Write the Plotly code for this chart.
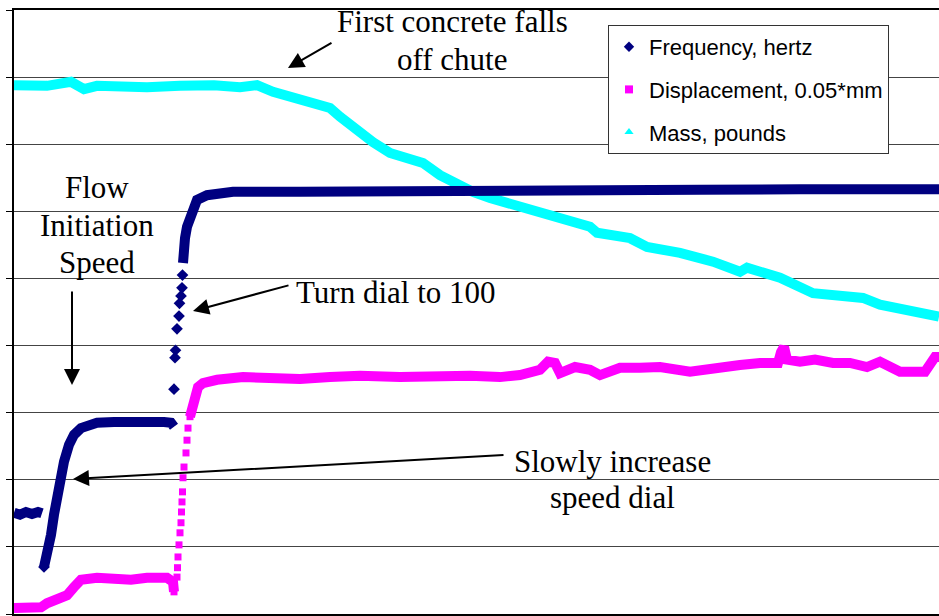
import plotly.graph_objects as go

# Time axis in seconds; None marks breaks between continuous stretches of readings.
freq_t = [0, 6, 12, 18, 24, 28, None,
          30, 33, 37, 40, 43, 47, 50, 55, 60, 67, 83, 100, 133, 150, 157, 160, None,
          169, 169.5, 171, 173, 176, 179, 183, 193, 219, 286, 386, 486, 586, 686, 786, 925]
freq_hz = [15.1, 14.8, 15.2, 14.9, 15.2, 15.0, None,
           7.0, 8.8, 11.8, 14.8, 17.7, 20.7, 22.7, 25.2, 26.7, 27.7, 28.5, 28.6, 28.8, 28.6, 28.5, 27.9, None,
           52.3, 54.2, 56.0, 57.7, 59.3, 60.7, 61.7, 62.4, 62.9, 62.9, 62.9, 63.0, 63.2, 63.2, 63.3, 63.3]
# Isolated frequency readings while the dial was turned to 100
freq_jump_t = [30, 160, 161, 161.5, 163, 165, 165.5, 167, 168, 168.5]
freq_jump_hz = [7.0, 33.5, 38.2, 39.3, 42.5, 44.4, 46.3, 47.4, 48.6, 50.5]

disp_t = [0, 27, 33, 43, 53, 60, 67, 83, 100, 117, 133, 153, 159, 160, None,
          176, 179, 181, 184, 189, 203, 229, 256, 286, 316, 346, 386, 426, 456, 486, 506, 526, 534, 541,
          546, 561, 576, 586, 606, 626, 646, 676, 691, 706, 726, 746, 764, 767, 770, 773, 786, 801, 819,
          836, 853, 866, 886, 911, 917, 921, 925]
disp_val = [0.9, 1.0, 1.6, 2.4, 2.8, 4.0, 5.1, 5.4, 5.1, 5.1, 5.4, 5.4, 4.8, 3.3, None,
            29.4, 31.4, 32.9, 33.8, 34.4, 34.9, 35.3, 35.2, 35.0, 35.3, 35.5, 35.3, 35.6, 35.5, 35.3, 35.6, 36.4, 37.6, 37.4,
            35.9, 36.8, 36.4, 35.6, 36.7, 36.7, 36.8, 36.1, 36.4, 37.0, 37.1, 37.4, 37.4, 39.0, 39.8, 37.9, 37.6, 37.9, 37.4,
            37.4, 36.8, 37.6, 36.1, 36.1, 37.3, 38.3, 38.3]
# Isolated displacement readings during the fast rise
disp_jump_t = [160, 163, 163.5, 164, 165, 166, 167, 167.5, 168, 168.5, 169, 170, 172, 173, 174, 176]
disp_jump_val = [3.3, 5.5, 6.9, 8.5, 10.3, 12.1, 13.6, 15.2, 16.7, 18.2, 20.3, 21.9, 24.0, 25.9, 27.7, 29.4]

mass_t = [0, 33, 57, 70, 83, 106, 133, 166, 200, 226, 243, 259, 276, 293, 316, 326, 343, 359, 376, 393,
          409, 426, 443, 459, 476, 493, 509, 526, 543, 559, 576, 583, 601, 616, 633, 666, 699, 726, 733,
          766, 799, 833, 849, 866, 883, 899, 925]
mass_lb = [78.8, 78.7, 79.3, 78.2, 78.7, 78.5, 78.5, 78.7, 78.8, 78.5, 78.8, 77.8, 77.1, 76.2, 75.4, 74.1, 72.1, 70.3, 68.7, 68.0,
           67.2, 65.4, 63.9, 62.9, 62.0, 61.3, 60.5, 59.8, 59.2, 58.4, 57.7, 56.8, 56.3, 56.0, 54.7, 53.8, 52.5, 51.0, 51.6,
           50.1, 47.8, 47.2, 47.1, 46.1, 45.6, 45.0, 44.3]

NAVY = "#000080"
MAGENTA = "#FF00FF"
CYAN = "#00FFFF"

fig = go.Figure()

fig.add_trace(go.Scatter(x=mass_t, y=mass_lb, mode="lines", line=dict(color=CYAN, width=10),
                         showlegend=False, connectgaps=False))
fig.add_trace(go.Scatter(x=disp_t, y=disp_val, mode="lines", line=dict(color=MAGENTA, width=10),
                         showlegend=False, connectgaps=False))
fig.add_trace(go.Scatter(x=disp_jump_t, y=disp_jump_val, mode="markers",
                         marker=dict(symbol="square", size=7, color=MAGENTA), showlegend=False))
fig.add_trace(go.Scatter(x=freq_t, y=freq_hz, mode="lines", line=dict(color=NAVY, width=10),
                         showlegend=False, connectgaps=False))
fig.add_trace(go.Scatter(x=freq_jump_t, y=freq_jump_hz, mode="markers",
                         marker=dict(symbol="diamond", size=9, color=NAVY), showlegend=False))

# Legend entries (marker only)
for name, sym, col, grp in [("Frequency, hertz", "diamond", NAVY, "f"),
                            ("Displacement, 0.05*mm", "square", MAGENTA, "d"),
                            ("Mass, pounds", "triangle-up", CYAN, "m")]:
    fig.add_trace(go.Scatter(x=[None], y=[None], mode="markers", name=name, legendgroup=grp,
                             marker=dict(symbol=sym, size=8, color=col)))

L, R, T, B = 14, 939, 10, 614


def px(x):
    return (x - L) / (R - L)


def py(y):
    return (B - y) / (B - T)


serif = dict(family="Liberation Serif, Times New Roman, serif", size=31, color="black")

labels = [
    ("First concrete falls", 452, 22),
    ("off chute", 452, 59),
    ("Flow", 97, 188),
    ("Initiation", 97, 225),
    ("Speed", 97, 262),
    ("Turn dial to 100", 396, 292),
    ("Slowly increase", 612, 461),
    ("speed dial", 612, 497),
]
annotations = [dict(text=t, x=px(x), y=py(y), xref="paper", yref="paper", showarrow=False,
                    font=serif, xanchor="center", yanchor="middle") for t, x, y in labels]

arrows = [((288, 68), (333, 42)), ((72, 385), (72, 290)),
          ((193, 311), (290, 285)), ((73, 479), (505, 455))]
for (tx, ty), (sx, sy) in arrows:
    annotations.append(dict(text="", x=px(tx), y=py(ty), xref="paper", yref="paper",
                            showarrow=True, ax=sx - tx, ay=sy - ty, arrowhead=2,
                            arrowsize=1.6, arrowwidth=2, arrowcolor="black", standoff=0))

fig.update_layout(
    width=939, height=616,
    margin=dict(l=L, r=0, t=T, b=2),
    paper_bgcolor="white", plot_bgcolor="white",
    annotations=annotations,
    legend=dict(x=px(608), y=py(25), xanchor="left", yanchor="top",
                bgcolor="white", bordercolor="#333", borderwidth=1,
                font=dict(family="Liberation Sans, Arial, sans-serif", size=22, color="black"),
                tracegroupgap=11, traceorder="grouped"),
    xaxis=dict(range=[0, 925], showgrid=False, zeroline=False, showticklabels=False,
               showline=True, mirror=True, linecolor="black", linewidth=2, ticks=""),
    yaxis=dict(range=[0, 90], dtick=10, showgrid=True, gridcolor="#444", gridwidth=1,
               zeroline=False, showticklabels=False, showline=True, linecolor="black",
               linewidth=2, ticks="outside", ticklen=6, tickcolor="black"),
)

fig.write_html("out.html")
